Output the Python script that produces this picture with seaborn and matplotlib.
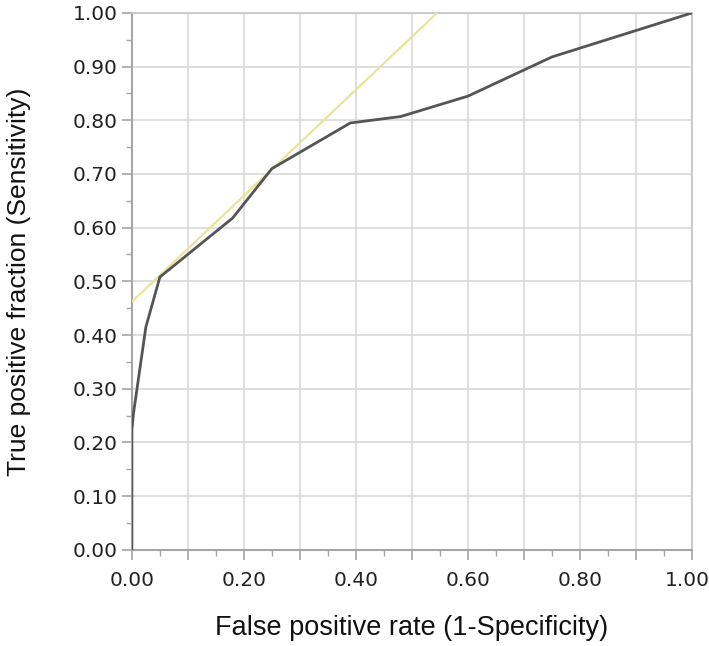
import matplotlib
matplotlib.use("Agg")
import matplotlib.pyplot as plt
import matplotlib.transforms as mtransforms
import seaborn as sns
import pandas as pd
import numpy as np
from matplotlib.ticker import MultipleLocator

sns.set_theme(style="white")

fpr = [0.0, 0.0, 0.003, 0.025, 0.05, 0.18, 0.25, 0.39, 0.48, 0.60, 0.75, 1.0]
tpr = [0.0, 0.223, 0.255, 0.415, 0.508, 0.618, 0.71, 0.795, 0.807, 0.845, 0.918, 1.0]
tangent_x = [0.0, 0.545]
tangent_y = [0.462, 1.0]
xtick_vals = [0.0, 0.1, 0.2, 0.3, 0.4, 0.5, 0.6, 0.7, 0.8, 0.9, 1.0]
xtick_labels = ["0.00", "", "0.20", "", "0.40", "", "0.60", "", "0.80", "", "1.00"]
ytick_vals = [0.0, 0.1, 0.2, 0.3, 0.4, 0.5, 0.6, 0.7, 0.8, 0.9, 1.0]
ytick_labels = ["0.00", "0.10", "0.20", "0.30", "0.40", "0.50", "0.60", "0.70", "0.80", "0.90", "1.00"]

fig = plt.figure(figsize=(7.09, 6.46), dpi=100)
ax = fig.add_axes([0.186, 0.149, 0.790, 0.831])

df_roc = pd.DataFrame({"fpr": fpr, "tpr": tpr})
df_tan = pd.DataFrame({"x": tangent_x, "y": tangent_y})

sns.lineplot(data=df_tan, x="x", y="y", ax=ax, color="#e8e49c", linewidth=1.6,
             sort=False, estimator=None, zorder=3)
sns.lineplot(data=df_roc, x="fpr", y="tpr", ax=ax, color="#555555", linewidth=2.0,
             sort=False, estimator=None, zorder=4)

ax.set_xlim(0, 1)
ax.set_ylim(0, 1)

ax.set_xticks(xtick_vals)
ax.set_xticklabels(xtick_labels)
ax.set_yticks(ytick_vals)
ax.set_yticklabels(ytick_labels)
ax.xaxis.set_minor_locator(MultipleLocator(0.05))
ax.yaxis.set_minor_locator(MultipleLocator(0.05))

ax.grid(True, which="major", color="#d9d9d9", linewidth=1.2)
ax.set_axisbelow(True)

for s in ax.spines.values():
    s.set_color("#c4c4c4")
    s.set_linewidth(1.2)
for s in ["left", "bottom"]:
    ax.spines[s].set_color("#a6a6a6")
    ax.spines[s].set_linewidth(1.5)

ax.tick_params(axis="both", which="major", direction="out", length=7, width=1.2,
               color="#a6a6a6", labelsize=14.5, labelcolor="#222222",
               bottom=True, left=True)
ax.tick_params(axis="x", which="major", pad=8)
ax.tick_params(axis="y", which="major", pad=3)
ax.tick_params(axis="both", which="minor", direction="out", length=4, width=1.0,
               color="#a6a6a6", bottom=True, left=True)
for lab in ax.get_xticklabels() + ax.get_yticklabels():
    lab.set_family("DejaVu Sans")

# nudge the last x label so it stays inside the figure
last = ax.get_xticklabels()[-1]
last.set_transform(last.get_transform() + mtransforms.ScaledTranslation(-5 / 100, 0, fig.dpi_scale_trans))

ax.set_xlabel("False positive rate (1-Specificity)", fontsize=19.5, family="Liberation Sans",
              color="#111111", labelpad=18)
ax.set_ylabel("True positive fraction (Sensitivity)", fontsize=19, family="Liberation Sans",
              color="#111111", labelpad=30)

fig.savefig("out.png", dpi=100)
